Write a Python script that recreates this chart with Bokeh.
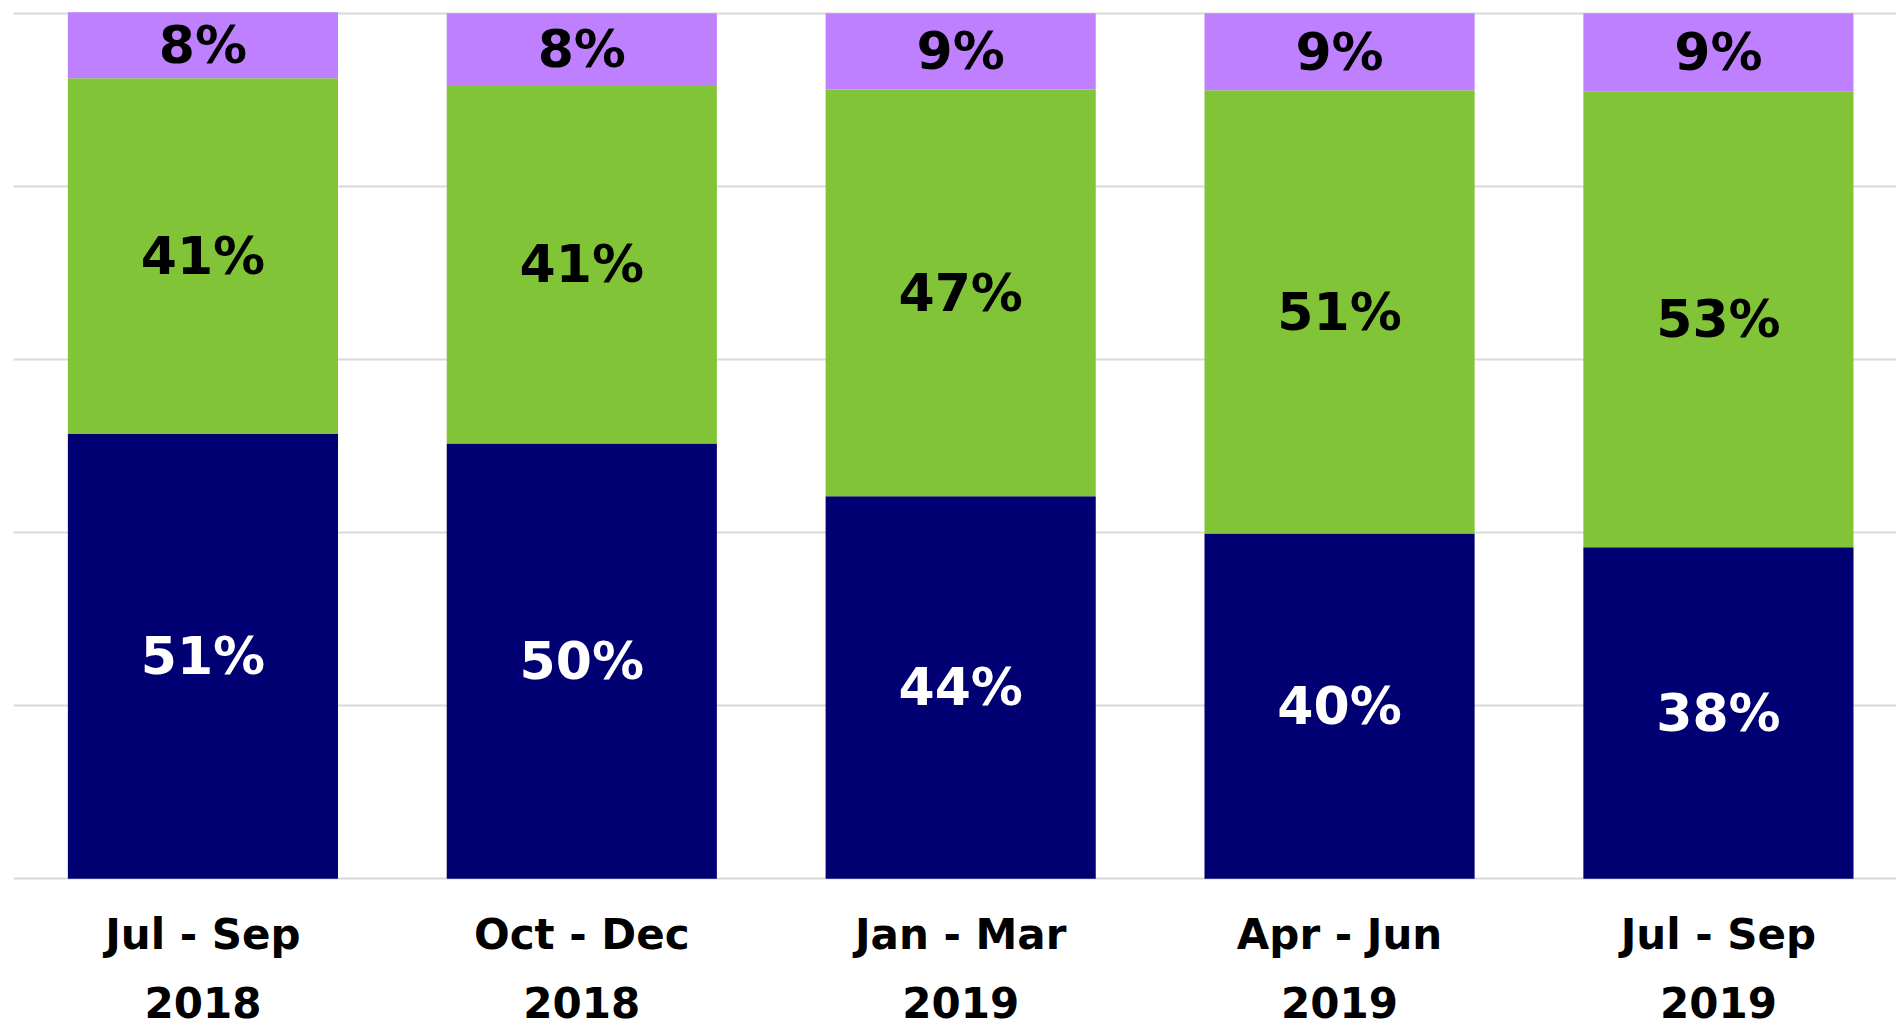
from bokeh.plotting import figure
from bokeh.models import ColumnDataSource, Range1d, FixedTicker, LinearAxis
from bokeh.core.properties import value
from bokeh.embed import file_html
from bokeh.resources import INLINE

# ---- data ----
quarters = ["Jul - Sep", "Oct - Dec", "Jan - Mar", "Apr - Jun", "Jul - Sep"]
years = ["2018", "2018", "2019", "2019", "2019"]
navy_vals = [51.4, 50.3, 44.2, 39.9, 38.3]
green_vals = [41.1, 41.4, 47.0, 51.2, 52.7]
purple_vals = [7.6, 8.3, 8.8, 8.9, 9.0]
grid_ticks = [0, 20, 40, 60, 80, 100]

NAVY = "#000072"
GREEN = "#82C437"
PURPLE = "#BF80FF"
FONT = "DejaVu Sans"

xs = list(range(len(quarters)))
src = ColumnDataSource(dict(x=xs, navy=navy_vals, green=green_vals, purple=purple_vals))

p = figure(output_backend="svg", toolbar_location=None,
           frame_width=1883, frame_height=869,
           x_range=Range1d(-0.5, 4.47), y_range=Range1d(-0.2, 100.2),
           x_axis_location=None, y_axis_location=None,
           min_border_left=13, min_border_right=0, min_border_top=11, min_border_bottom=148)
p.outline_line_color = None
p.xgrid.visible = False
p.ygrid.ticker = FixedTicker(ticks=grid_ticks)
p.ygrid.grid_line_color = "#D9D9D9"
p.ygrid.grid_line_width = 2

p.vbar_stack(["navy", "green", "purple"], x="x", width=0.713,
             color=[NAVY, GREEN, PURPLE], line_color=None, source=src)

# segment labels
lx, ly, lt, lc = [], [], [], []
for i in xs:
    base = 0.0
    for v, col in ((navy_vals[i], "white"), (green_vals[i], "black"), (purple_vals[i], "black")):
        lx.append(i)
        ly.append(base + v / 2.0)
        lt.append(f"{round(v)}%")
        lc.append(col)
        base += v
lsrc = ColumnDataSource(dict(x=lx, y=ly, t=lt, c=lc))
p.text(x="x", y="y", text="t", text_color="c", source=lsrc,
       text_font=value(FONT), text_font_style="bold", text_font_size="52px",
       text_align="center", text_baseline="middle")

# category axes (two lines)
ax1 = LinearAxis(ticker=FixedTicker(ticks=xs),
                 major_label_overrides={i: q for i, q in zip(xs, quarters)})
ax2 = LinearAxis(ticker=FixedTicker(ticks=xs),
                 major_label_overrides={i: y for i, y in zip(xs, years)})
for ax, so in ((ax1, 23), (ax2, 19)):
    ax.axis_line_color = None
    ax.major_tick_line_color = None
    ax.minor_tick_line_color = None
    ax.major_label_standoff = so
    ax.major_label_text_font = FONT
    ax.major_label_text_font_style = "bold"
    ax.major_label_text_font_size = "42px"
    ax.major_label_text_color = "black"
    p.add_layout(ax, "below")

open("out.html", "w").write(file_html(p, INLINE))
